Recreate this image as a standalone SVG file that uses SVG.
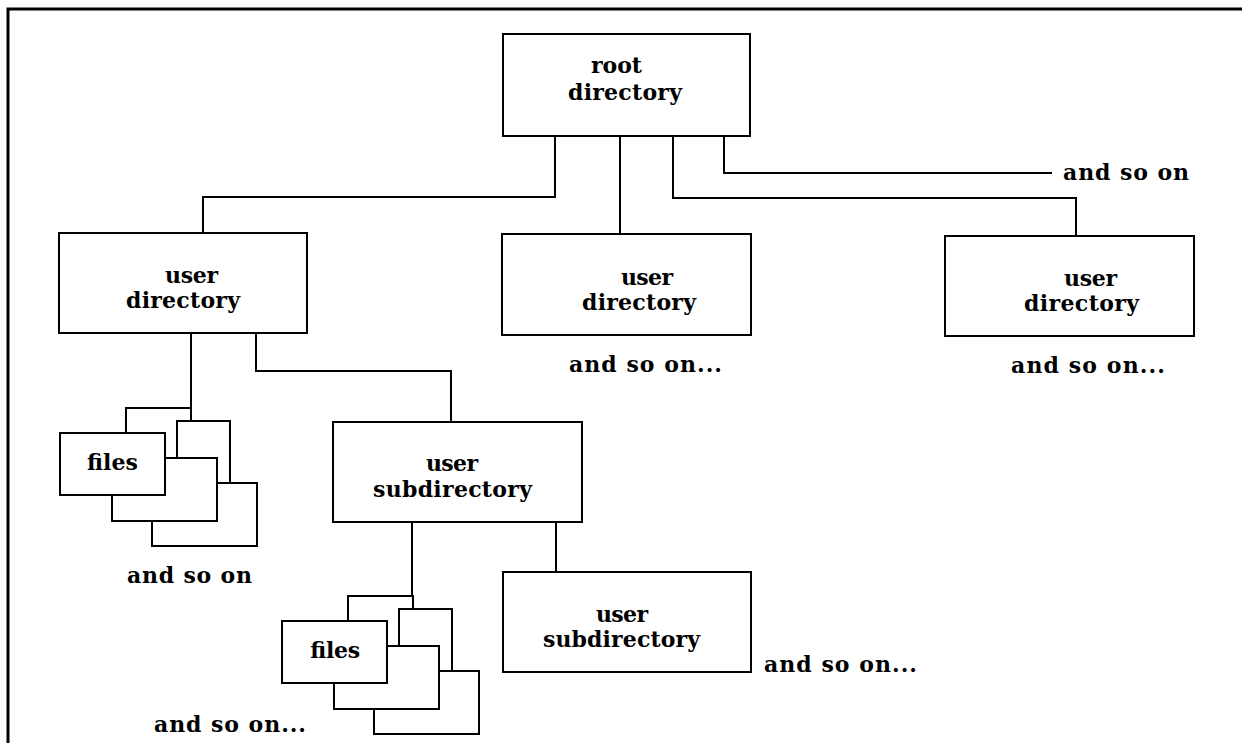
<svg xmlns="http://www.w3.org/2000/svg" xmlns:xlink="http://www.w3.org/1999/xlink" width="1242" height="743" viewBox="0 0 1242 743">
<style>
  .box { fill: #fff; stroke: #000; stroke-width: 2; }
  .line { fill: none; stroke: #000; stroke-width: 2; }
  .frame { fill: none; stroke: #000; stroke-width: 3; }
  text { font-family: "DejaVu Serif", "Liberation Serif", serif; font-weight: bold; font-size: 22px; fill: #000; }
</style>
<defs>
  <g id="stack">
    <rect class="box" x="66" y="-25" width="65" height="62"/>
    <rect class="box" x="117" y="-12" width="53" height="62"/>
    <rect class="box" x="92" y="50" width="105" height="63"/>
    <rect class="box" x="52" y="25" width="105" height="63"/>
    <rect class="box" x="0" y="0" width="105" height="62"/>
  </g>
</defs>
<rect x="0" y="0" width="1242" height="743" fill="#fff"/>
<path class="frame" d="M8 743 V9 H1242"/>

<g id="connectors">
  <path class="line" d="M555 136 V197 H203 V233"/>
  <path class="line" d="M620 136 V234"/>
  <path class="line" d="M673 136 V198 H1076 V236"/>
  <path class="line" d="M724 136 V173 H1052"/>
  <path class="line" d="M191 333 V421"/>
  <path class="line" d="M256 333 V371 H451 V422"/>
  <path class="line" d="M412 522 V608"/>
  <path class="line" d="M556 522 V572"/>
</g>

<g id="root">
  <rect class="box" x="503" y="34" width="247" height="102"/>
  <text x="591" y="73" textLength="51" lengthAdjust="spacing">root</text>
  <text x="568" y="100" textLength="114" lengthAdjust="spacing">directory</text>
</g>

<g id="and-so-on-top">
  <text x="1063" y="180" textLength="126" lengthAdjust="spacing">and so on</text>
</g>

<g id="user-dir-left">
  <rect class="box" x="59" y="233" width="248" height="100"/>
  <text x="165" y="283" textLength="53" lengthAdjust="spacing">user</text>
  <text x="126" y="308" textLength="114" lengthAdjust="spacing">directory</text>
</g>

<g id="user-dir-mid">
  <rect class="box" x="502" y="234" width="249" height="101"/>
  <text x="621" y="285" textLength="52" lengthAdjust="spacing">user</text>
  <text x="582" y="310" textLength="114" lengthAdjust="spacing">directory</text>
  <text x="569" y="372" textLength="153" lengthAdjust="spacing">and so on...</text>
</g>

<g id="user-dir-right">
  <rect class="box" x="945" y="236" width="249" height="100"/>
  <text x="1064" y="286" textLength="53" lengthAdjust="spacing">user</text>
  <text x="1024" y="311" textLength="115" lengthAdjust="spacing">directory</text>
  <text x="1011" y="373" textLength="154" lengthAdjust="spacing">and so on...</text>
</g>

<g id="files-1">
  <use xlink:href="#stack" href="#stack" transform="translate(60,433)"/>
  <text x="87" y="470" textLength="51" lengthAdjust="spacing">files</text>
  <text x="127" y="583" textLength="125" lengthAdjust="spacing">and so on</text>
</g>

<g id="user-subdir-1">
  <rect class="box" x="333" y="422" width="249" height="100"/>
  <text x="426" y="471" textLength="52" lengthAdjust="spacing">user</text>
  <text x="373" y="497" textLength="159" lengthAdjust="spacing">subdirectory</text>
</g>

<g id="user-subdir-2">
  <rect class="box" x="503" y="572" width="248" height="100"/>
  <text x="596" y="622" textLength="52" lengthAdjust="spacing">user</text>
  <text x="543" y="647" textLength="157" lengthAdjust="spacing">subdirectory</text>
  <text x="764" y="672" textLength="153" lengthAdjust="spacing">and so on...</text>
</g>

<g id="files-2">
  <use xlink:href="#stack" href="#stack" transform="translate(282,621)"/>
  <text x="310" y="658" textLength="50" lengthAdjust="spacing">files</text>
  <text x="154" y="732" textLength="152" lengthAdjust="spacing">and so on...</text>
</g>
</svg>
